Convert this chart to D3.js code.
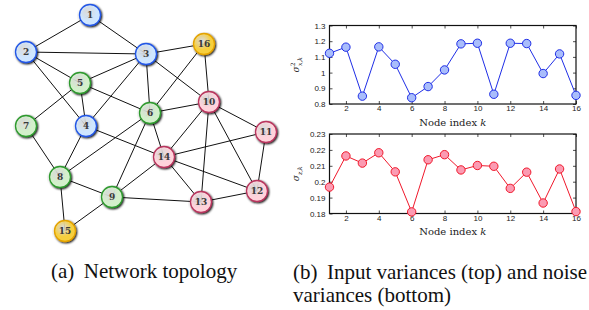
<!DOCTYPE html>
<html>
<head>
<meta charset="utf-8">
<script src="https://cdn.jsdelivr.net/npm/d3@7"></script>
<style>
  body { margin: 0; background: #fff; }
  .tick text { font-family: "Liberation Sans", Arial, sans-serif; font-size: 8px; fill: #222; }
  .caption { font-family: "Liberation Serif", "Times New Roman", serif; font-size: 21px; fill: #111; white-space: pre; }
  .xlab { font-family: "DejaVu Serif", serif; font-size: 10px; fill: #222; }
  .node-label { font-family: "DejaVu Serif", serif; font-size: 9px; font-weight: bold; fill: #3a3a3a; }
</style>
</head>
<body>
<div id="chart"></div>
<script>
// network nodes: id, group, x, y (layout as in the figure)
var nodeIds = [1, 2, 3, 4, 5, 6, 7, 8, 9, 10, 11, 12, 13, 14, 15, 16];
var nodeGroups = ["b", "b", "b", "b", "g", "g", "g", "g", "g", "p", "p", "p", "p", "p", "y", "y"];
var nodeX = [90, 26, 146, 86, 80, 150, 26, 60, 112, 209, 266, 257, 201, 164, 65, 204];
var nodeY = [15, 52, 54, 126, 83, 113, 126, 177, 197, 102, 132, 191, 202, 157, 231, 44];
var edges = [[1,2],[1,3],[2,3],[2,5],[2,4],[3,16],[3,5],[3,4],[3,6],[3,10],[16,6],[16,10],
  [5,4],[5,7],[5,6],[6,10],[6,14],[6,8],[6,9],[4,8],[4,14],[7,8],[8,9],[8,15],[9,15],
  [9,14],[9,13],[10,14],[10,11],[10,13],[10,12],[11,14],[11,12],[14,13],[14,12],[13,12]];

// variances per node k = 1..16
var kIndex = d3.range(1, 17);
var inputVar = [1.123, 1.162, 0.85, 1.164, 1.053, 0.84, 0.911, 1.017, 1.183, 1.187, 0.862, 1.187, 1.185, 0.994, 1.119, 0.855];
var noiseVar = [0.1966, 0.2162, 0.2117, 0.2182, 0.2062, 0.181, 0.2138, 0.2170, 0.2074, 0.2102, 0.2097, 0.1958, 0.2060, 0.1866, 0.2080, 0.1812];
var xTicks = [2, 4, 6, 8, 10, 12, 14, 16];
var topTicks = [0.8, 0.9, 1, 1.1, 1.2, 1.3];
var botTicks = [0.18, 0.19, 0.2, 0.21, 0.22, 0.23];

var colors = {
  b: { fill: "#cfe6ff", stroke: "#2457e6" },
  g: { fill: "#d3f0cb", stroke: "#2f9a2f" },
  p: { fill: "#ffd3db", stroke: "#b8365e" },
  y: { fill: "#f7cf3c", stroke: "#e3a200" }
};

var svg = d3.select("#chart").append("svg")
  .attr("width", 589).attr("height", 310);

var defs = svg.append("defs");
Object.keys(colors).forEach(function(k) {
  var g = defs.append("radialGradient").attr("id", "grad-" + k)
    .attr("cx", "40%").attr("cy", "35%").attr("r", "70%");
  g.append("stop").attr("offset", "0%").style("stop-color", "#fff").style("stop-opacity", 0.55);
  g.append("stop").attr("offset", "60%").style("stop-color", colors[k].fill).style("stop-opacity", 1);
  g.append("stop").attr("offset", "100%").style("stop-color", colors[k].fill).style("stop-opacity", 1);
});
var filter = defs.append("filter").attr("id", "shadow").attr("height", "150%").attr("width", "150%");
filter.append("feGaussianBlur").attr("in", "SourceAlpha").attr("stdDeviation", 1).attr("result", "blur");
filter.append("feOffset").attr("in", "blur").attr("dx", 0.5).attr("dy", 1).attr("result", "off");
var fm = filter.append("feMerge");
fm.append("feMergeNode").attr("in", "off");
fm.append("feMergeNode").attr("in", "SourceGraphic");

// ---------- network ----------
var nodes = nodeIds.map(function(id, i) {
  return { id: id, group: nodeGroups[i], x: nodeX[i], y: nodeY[i] };
});
var byId = {};
nodes.forEach(function(n) { byId[n.id] = n; });

var net = svg.append("g");
net.selectAll("line.edge")
  .data(edges)
  .enter().append("line")
  .attr("class", "edge")
  .attr("x1", function(d) { return byId[d[0]].x; })
  .attr("y1", function(d) { return byId[d[0]].y; })
  .attr("x2", function(d) { return byId[d[1]].x; })
  .attr("y2", function(d) { return byId[d[1]].y; })
  .attr("stroke", "#111").attr("stroke-width", 1);

var ng = net.selectAll("g.node")
  .data(nodes)
  .enter().append("g")
  .attr("transform", function(d) { return "translate(" + d.x + "," + d.y + ")"; });
ng.append("circle")
  .attr("r", 10.5)
  .attr("fill", function(d) { return "url(#grad-" + d.group + ")"; })
  .attr("stroke", function(d) { return colors[d.group].stroke; })
  .attr("stroke-width", 1.3)
  .style("filter", "url(#shadow)");
ng.append("text")
  .attr("class", "node-label")
  .attr("text-anchor", "middle")
  .attr("dy", "0.35em")
  .text(function(d) { return d.id; });

// ---------- line plots ----------
var x = d3.scaleLinear().domain([1, 16]).range([329.5, 576]);

function drawPlot(values, yDomain, yTicks, top, bottom, stroke, fill, labelVar, sup) {
  var y = d3.scaleLinear().domain(yDomain).range([bottom, top]);
  var g = svg.append("g");

  g.append("g").attr("transform", "translate(0," + bottom + ")")
    .call(d3.axisBottom(x).tickValues(xTicks).tickSizeInner(-3).tickSizeOuter(0).tickPadding(1.5));
  g.append("g").attr("transform", "translate(0," + top + ")")
    .call(d3.axisTop(x).tickValues(xTicks).tickSizeInner(-3).tickSizeOuter(0).tickFormat(""));
  g.append("g").attr("transform", "translate(" + x.range()[0] + ",0)")
    .call(d3.axisLeft(y).tickValues(yTicks).tickSizeInner(-3).tickSizeOuter(0).tickPadding(4)
      .tickFormat(d3.format("~g")));
  g.append("g").attr("transform", "translate(" + x.range()[1] + ",0)")
    .call(d3.axisRight(y).tickValues(yTicks).tickSizeInner(-3).tickSizeOuter(0).tickFormat(""));
  g.selectAll(".domain").remove();
  g.selectAll(".tick line").attr("stroke", "#222").attr("stroke-width", 0.8);

  g.append("rect")
    .attr("x", x.range()[0]).attr("y", top)
    .attr("width", x.range()[1] - x.range()[0]).attr("height", bottom - top)
    .attr("fill", "none").attr("stroke", "#111").attr("stroke-width", 1.2);

  var data = kIndex.map(function(k, i) { return { k: k, v: values[i] }; });
  g.append("path").datum(data)
    .attr("fill", "none").attr("stroke", stroke).attr("stroke-width", 1)
    .attr("d", d3.line().x(function(d) { return x(d.k); }).y(function(d) { return y(d.v); }));
  g.selectAll("circle").data(data).enter().append("circle")
    .attr("cx", function(d) { return x(d.k); })
    .attr("cy", function(d) { return y(d.v); })
    .attr("r", 4.2)
    .attr("fill", fill).attr("stroke", stroke).attr("stroke-width", 1);

  g.append("text").attr("class", "xlab")
    .attr("x", (x.range()[0] + x.range()[1]) / 2).attr("y", bottom + 21.5)
    .attr("text-anchor", "middle")
    .html('Node index <tspan font-style="italic">k</tspan>');

  var yl = g.append("text").attr("class", "xlab")
    .attr("transform", "translate(299," + ((top + bottom) / 2) + ") rotate(-90)")
    .attr("text-anchor", "middle").style("font-size", "9px");
  yl.append("tspan").attr("font-style", "italic").text("σ");
  if (sup) yl.append("tspan").attr("dy", -4).attr("dx", 0).style("font-size", "6px").text("2");
  yl.append("tspan").attr("dy", sup ? 7 : 3).attr("dx", sup ? -3.5 : 0)
    .attr("font-style", "italic").style("font-size", "6px").text(labelVar + ",k");
}

drawPlot(inputVar, [0.8, 1.3], topTicks, 25.5, 104, "#1f2ee6", "#a9bdfb", "x", true);
drawPlot(noiseVar, [0.18, 0.23], botTicks, 134, 213.5, "#f0182b", "#fb9bb2", "z", false);

// ---------- captions ----------
svg.append("text").attr("class", "caption").attr("x", 51).attr("y", 278)
  .text("(a)\u2009 Network topology");
svg.append("text").attr("class", "caption").attr("x", 293).attr("y", 279)
  .text("(b)\u2009 Input variances (top) and noise");
svg.append("text").attr("class", "caption").attr("x", 293).attr("y", 302)
  .text("variances (bottom)");
</script>
</body>
</html>
